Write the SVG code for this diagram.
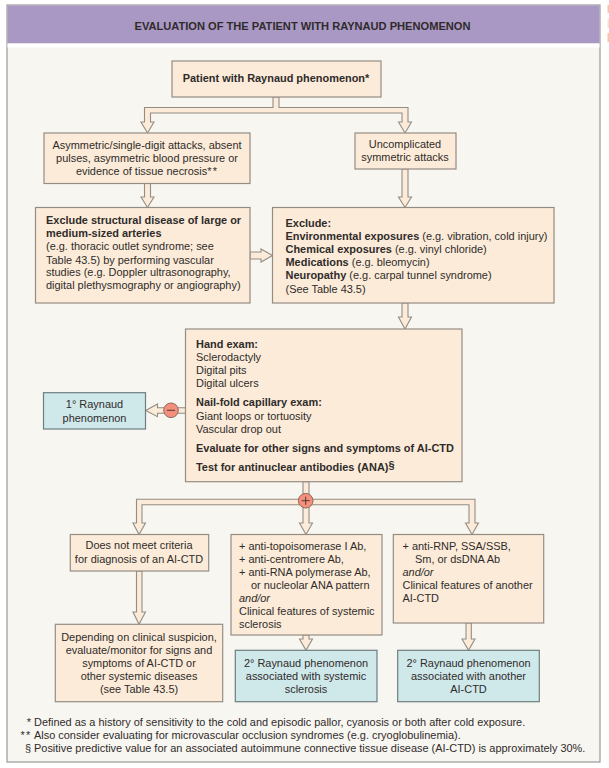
<svg xmlns="http://www.w3.org/2000/svg" width="609" height="768" viewBox="0 0 609 768">
<style>
text{font-family:"Liberation Sans",Arial,sans-serif;font-size:10.95px;fill:#2f2b2b}
.h{font-size:11.1px}
.b{font-weight:700}.i{font-style:italic}.m{text-anchor:middle}
.o{fill:#fbebd8;stroke:#948d84;stroke-width:1.2}
.t{fill:#cfe8ea;stroke:#6d7f80;stroke-width:1.2}
.a{fill:#fbebd8;stroke:#948d84;stroke-width:1.1;stroke-linejoin:miter}
.c{fill:#f58f7c;stroke:#8a6a5e;stroke-width:1}
.s{stroke:#4a3a34;stroke-width:1;fill:none}
.w{letter-spacing:1.2px}
</style>
<rect width="609" height="768" fill="#fff"/>
<g id="panel">
<rect x="7" y="5" width="593" height="757" fill="#f8f6f1" stroke="#9a9a98" stroke-width="1.2"/>
<rect x="7.500" y="5.500" width="592" height="38" fill="#aa98c4"/>
<rect x="7.500" y="43.500" width="592" height="4" fill="#fff"/>
<text class="b m h" x="302.500" y="30">EVALUATION OF THE PATIENT WITH RAYNAUD PHENOMENON</text>
<rect x="607.500" y="5" width="1.500" height="8" fill="#f3c998"/>
<rect x="607.500" y="19" width="1.500" height="9" fill="#f8e0c2"/>
<rect x="607.500" y="33" width="1.500" height="9" fill="#f3c998"/>
</g>
<g id="connectors">
<path class="a" d="M273 97V107.500H144.500V122H141L147.500 133L154 122H150.500V113H402V122H398.500L405 133L411.500 122H408V107.500H279V97Z"/>
<path class="a" d="M144.500 183.500V197H141L147.500 207.500L154 197H150.500V183.500Z"/>
<path class="a" d="M402 169V197H398.500L405 207.500L411.500 197H408V169Z"/>
<path class="a" d="M250 252V259H261V262L272.500 255.500L261 249V252Z"/>
<path class="a" d="M402 303V317H398.500L405 329L411.500 317H408V303Z"/>
<path class="a" d="M185.500 407.700H157.500V404L145.700 410.500L157.500 416.700V413.300H185.500Z"/>
<path class="a" d="M303 481.700V499.300H136.500V523H133L139 534.500L145.500 523H142V504.700H303V523H299.500L306 534.500L312.500 523H309V504.700H469V523H465.500L472 534.500L478.500 523H475V499.300H309V481.700Z"/>
<path class="a" d="M136.500 571V612H133L139 624.300L145.500 612H142V571Z"/>
<path class="a" d="M303 635V639H299.500L306 650.300L312.500 639H309V635Z"/>
<path class="a" d="M466 623V639H462L468.500 650.300L475 639H471.300V623Z"/>
</g>
<g id="n1"><rect class="o" x="172" y="61" width="209" height="36"/><text class="b m" x="276" y="82">Patient with Raynaud phenomenon*</text></g>
<g id="n2"><rect class="o" x="44" y="133" width="206" height="50.500"/><text class="m" x="147" y="149">Asymmetric/single-digit attacks, absent</text><text class="m" x="147" y="162">pulses, asymmetric blood pressure or</text><text class="m" x="147" y="175">evidence of tissue necrosis<tspan class="w">**</tspan></text></g>
<g id="n3"><rect class="o" x="355" y="133" width="101" height="36"/><text class="m" x="405" y="148">Uncomplicated</text><text class="m" x="405" y="161">symmetric attacks</text></g>
<g id="n4"><rect class="o" x="35.500" y="207.500" width="214.500" height="95.500"/><text class="b" x="46" y="224">Exclude structural disease of large or</text><text class="b" x="46" y="237">medium-sized arteries</text><text x="46" y="250">(e.g. thoracic outlet syndrome; see</text><text x="46" y="263.500">Table 43.5) by performing vascular</text><text x="46" y="276">studies (e.g. Doppler ultrasonography,</text><text x="46" y="289">digital plethysmography or angiography)</text></g>
<g id="n5"><rect class="o" x="272.500" y="207.500" width="281.500" height="95.500"/><text class="b" x="285.500" y="226.500">Exclude:</text><text x="285.500" y="239.500"><tspan class="b">Environmental exposures</tspan> (e.g. vibration, cold injury)</text><text x="285.500" y="253"><tspan class="b">Chemical exposures</tspan> (e.g. vinyl chloride)</text><text x="285.500" y="266"><tspan class="b">Medications</tspan> (e.g. bleomycin)</text><text x="285.500" y="279"><tspan class="b">Neuropathy</tspan> (e.g. carpal tunnel syndrome)</text><text x="285.500" y="292.500">(See Table 43.5)</text></g>
<g id="n6"><rect class="o" x="185.500" y="329" width="276.500" height="152.700"/><text class="b" x="196" y="348">Hand exam:</text><text x="196" y="361">Sclerodactyly</text><text x="196" y="374">Digital pits</text><text x="196" y="387">Digital ulcers</text><text class="b" x="196" y="406">Nail-fold capillary exam:</text><text x="196" y="419.500">Giant loops or tortuosity</text><text x="196" y="432.500">Vascular drop out</text><text class="b" x="196" y="452">Evaluate for other signs and symptoms of AI-CTD</text><text class="b" x="196" y="471">Test for antinuclear antibodies (ANA)<tspan dy="-2">§</tspan></text></g>
<g id="n7"><rect class="t" x="43.500" y="392.700" width="102" height="36.300"/><text class="m" x="94.500" y="408">1° Raynaud</text><text class="m" x="94.500" y="421.500">phenomenon</text></g>
<g id="minus"><circle class="c" cx="171" cy="410.300" r="7.300"/><path class="s" d="M167 410.300H175"/></g>
<g id="plus"><circle class="c" cx="305.700" cy="500.700" r="7.300"/><path class="s" d="M301.700 500.700H309.700M305.700 496.700V504.700"/></g>
<g id="n8"><rect class="o" x="70.300" y="534.500" width="138.400" height="36.500"/><text class="m" x="139" y="549">Does not meet criteria</text><text class="m" x="139" y="563">for diagnosis of an AI-CTD</text></g>
<g id="n9"><rect class="o" x="231" y="534.500" width="151" height="100.500"/><text x="239" y="549.500">+ anti-topoisomerase I Ab,</text><text x="239" y="563">+ anti-centromere Ab,</text><text x="239" y="576">+ anti-RNA polymerase Ab,</text><text x="251" y="588.500">or nucleolar ANA pattern</text><text class="i" x="239" y="601.500">and/or</text><text x="239" y="615">Clinical features of systemic</text><text x="239" y="628">sclerosis</text></g>
<g id="n10"><rect class="o" x="393.300" y="534.500" width="150.400" height="88.500"/><text x="402.500" y="549.500">+ anti-RNP, SSA/SSB,</text><text x="415" y="563">Sm, or dsDNA Ab</text><text class="i" x="402.500" y="576">and/or</text><text x="402.500" y="588.500">Clinical features of another</text><text x="402.500" y="601.500">AI-CTD</text></g>
<g id="n11"><rect class="o" x="55.300" y="624.300" width="167.400" height="77.400"/><text class="m" x="139" y="640.500">Depending on clinical suspicion,</text><text class="m" x="139" y="654">evaluate/monitor for signs and</text><text class="m" x="139" y="667">symptoms of AI-CTD or</text><text class="m" x="139" y="680">other systemic diseases</text><text class="m" x="139" y="693">(see Table 43.5)</text></g>
<g id="n12"><rect class="t" x="235.300" y="650.300" width="141.700" height="51.400"/><text class="m" x="306" y="667">2° Raynaud phenomenon</text><text class="m" x="306" y="680">associated with systemic</text><text class="m" x="306" y="693">sclerosis</text></g>
<g id="n13"><rect class="t" x="397.700" y="650.300" width="141.600" height="51.400"/><text class="m" x="468.500" y="667">2° Raynaud phenomenon</text><text class="m" x="468.500" y="680">associated with another</text><text class="m" x="468.500" y="693">AI-CTD</text></g>
<g id="notes"><text x="31" y="726" text-anchor="end">*</text><text x="34" y="726">Defined as a history of sensitivity to the cold and episodic pallor, cyanosis or both after cold exposure.</text><text class="w" x="31.500" y="739" text-anchor="end">**</text><text x="34" y="739">Also consider evaluating for microvascular occlusion syndromes (e.g. cryoglobulinemia).</text><text x="31" y="752" text-anchor="end">§</text><text x="34" y="752">Positive predictive value for an associated autoimmune connective tissue disease (AI-CTD) is approximately 30%.</text></g>
</svg>
